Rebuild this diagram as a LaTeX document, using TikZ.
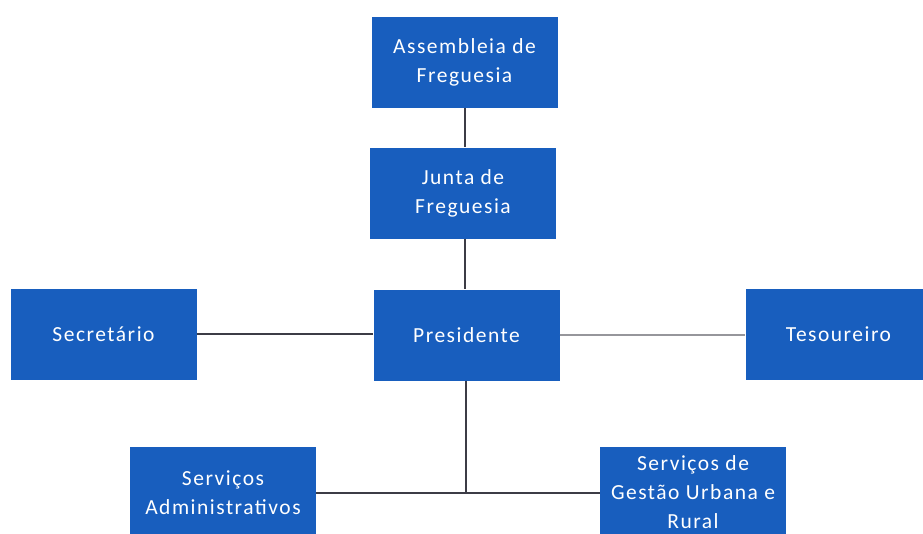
\documentclass[tikz,border=0pt]{standalone}
\usepackage{fontspec}
\setmainfont{Carlito}[LetterSpace=7]
\definecolor{boxblue}{RGB}{24,94,190}
\definecolor{linedark}{RGB}{60,60,70}
\definecolor{linelight}{RGB}{150,150,155}
\begin{document}
\begin{tikzpicture}[x=1pt,y=-1pt,
  orgbox/.style={fill=boxblue,draw=none,minimum width=186pt,minimum height=91pt,
    text=white,align=center,font=\fontsize{21.5}{29}\selectfont,inner sep=0pt},
  conn/.style={draw=linedark,line width=1.6pt},
  connlight/.style={draw=linelight,line width=1.6pt}]
\useasboundingbox (0,0) rectangle (923,533);
\clip (0,0) rectangle (923,533);
\node[orgbox] (A) at (464.5,62.5) {Assembleia de\\Freguesia};
\node[orgbox] (J) at (463,193) {Junta de\\Freguesia};
\node[orgbox] (S) at (103.5,334) {Secretário};
\node[orgbox] (P) at (466.5,335) {Presidente};
\node[orgbox] (T) at (838.5,334.5) {Tesoureiro};
\node[orgbox] (SA) at (223,492.5) {Serviços\\Administrativos};
\node[orgbox] (SG) at (693,492.5) {Serviços de\\Gestão Urbana e\\Rural};
\coordinate (M) at (466,493);
\draw[conn] (A.south -| 465,0) -- (J.north -| 465,0);
\draw[conn] (J.south -| 465,0) -- (P.north -| 465,0);
\draw[conn] (S.east) -- (S.east -| P.west);
\draw[connlight] (P.east) -- (P.east -| T.west);
\draw[conn] (P.south -| M) -- (M);
\draw[conn] (SA.east |- M) -- (SG.west |- M);
\end{tikzpicture}
\end{document}
